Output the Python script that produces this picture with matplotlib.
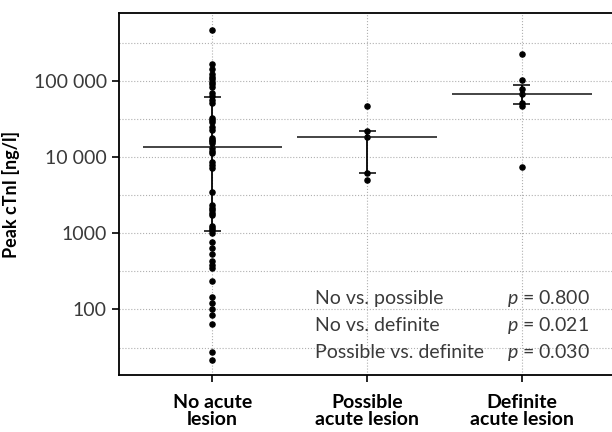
import numpy as np
import matplotlib.pyplot as plt
from matplotlib.ticker import FixedLocator, NullFormatter

plt.rcParams['font.family'] = ['Lato', 'DejaVu Sans']
plt.rcParams['mathtext.fontset'] = 'custom'
plt.rcParams['mathtext.rm'] = 'Lato'
plt.rcParams['mathtext.it'] = 'Lato:italic'

# categories and values (ng/l)
groups = ['No acute\nlesion', 'Possible\nacute lesion', 'Definite\nacute lesion']
no_lesion = [472000, 169000, 145000, 122000, 113000, 105000, 97000, 90000, 84000,
             70000, 63500, 56000, 51400, 32600, 30700, 29200, 24900, 22500,
             17800, 16900, 16100, 15300, 13100, 12100, 11200, 8550, 7870, 7130,
             3440, 2350, 2140, 2000, 1860, 1730, 1240, 1160, 1090, 1015,
             760, 645, 538, 431, 386, 346, 233, 146, 121, 102, 84, 63.5, 27.7, 21.8]
possible = [46500, 22000, 18400, 6200, 4950]
definite = [226000, 102000, 78500, 67400, 51900, 46900, 7350]

# median and interquartile range as drawn
medians = [13600, 18400, 67400]
q1 = [1060, 6200, 49400]
q3 = [61700, 22200, 88600]

y_ticks = [100, 1000, 10000, 100000]
y_tick_labels = ['100', '1000', '10 000', '100 000']
comparisons = ['No vs. possible', 'No vs. definite', 'Possible vs. definite']
p_values = ['0.800', '0.021', '0.030']

fig = plt.figure(figsize=(6.12, 4.32), dpi=100)
ax = fig.add_axes([0.195, 0.1326, 0.8095, 0.8366])

ax.set_yscale('log')
ax.set_ylim(10**1.143, 10**5.887)
ax.set_xlim(-0.6, 2.6)

for i, vals in enumerate([no_lesion, possible, definite]):
    ax.plot([i] * len(vals), vals, 'o', color='k', markersize=3.7, zorder=3)
    ax.hlines(medians[i], i - 0.45, i + 0.45, color='#111111', lw=1.1, zorder=4)
    ax.vlines(i, q1[i], q3[i], color='k', lw=1.3, zorder=4)
    ax.hlines([q1[i], q3[i]], i - 0.055, i + 0.055, color='k', lw=1.1, zorder=4)

ax.set_yticks(y_ticks)
ax.set_yticklabels(y_tick_labels)
ax.yaxis.set_minor_locator(FixedLocator([10**(k + 0.5) for k in range(0, 6)]))
ax.yaxis.set_minor_formatter(NullFormatter())
ax.tick_params(axis='y', which='minor', length=0)
ax.tick_params(axis='y', which='major', labelsize=14, labelcolor='#3a3a3a',
               length=5, width=1.2, direction='out', pad=4)
ax.set_xticks(range(len(groups)))
ax.set_xticklabels(groups, fontsize=14, fontweight='bold', linespacing=1.0)
ax.tick_params(axis='x', length=5, width=1.2, direction='out', pad=9)

ax.grid(True, which='both', axis='y', linestyle=':', color='#b0b0b0', lw=0.8)
ax.grid(True, which='major', axis='x', linestyle=':', color='#b0b0b0', lw=0.8)
ax.set_axisbelow(True)

for s in ['left', 'top', 'bottom']:
    ax.spines[s].set_linewidth(1.3)
ax.spines['right'].set_visible(False)

ax.set_ylabel('Peak cTnI [ng/l]', fontsize=13, fontweight='bold', labelpad=10)

rows_y = [0.212, 0.136, 0.062]
for c, p, yy in zip(comparisons, p_values, rows_y):
    ax.text(0.395, yy, c, transform=ax.transAxes, fontsize=14, color='#3a3a3a',
            va='center', ha='left')
    ax.text(0.783, yy, '$p$ = ' + p, transform=ax.transAxes, fontsize=14,
            color='#3a3a3a', va='center', ha='left')

fig.savefig('out.png', dpi=100)
